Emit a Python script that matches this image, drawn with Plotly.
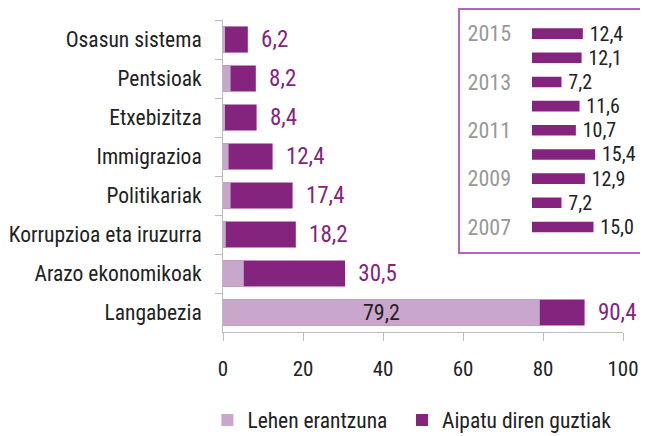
import plotly.graph_objects as go

categories = ["Osasun sistema", "Pentsioak", "Etxebizitza", "Immigrazioa",
              "Politikariak", "Korrupzioa eta iruzurra", "Arazo ekonomikoak", "Langabezia"]
first_answer = [0.3, 1.9, 0.4, 1.4, 1.9, 0.7, 5.2, 79.2]
all_mentions = [6.2, 8.2, 8.4, 12.4, 17.4, 18.2, 30.5, 90.4]
series_names = ["Lehen erantzuna", "Aipatu diren guztiak"]

years = [2015, 2014, 2013, 2012, 2011, 2010, 2009, 2008, 2007]
year_values = [12.4, 12.1, 7.2, 11.6, 10.7, 15.4, 12.9, 7.2, 15.0]
year_ticks = [2007, 2009, 2011, 2013, 2015]

DARK = "#84247f"
LIGHT = "#c9a6cc"
FONT = "Roboto Condensed, Liberation Sans Narrow, DejaVu Sans Condensed, Roboto, sans-serif"

def fmt(v):
    return f"{v:.1f}".replace(".", ",")

fig = go.Figure()

fig.add_trace(go.Bar(
    y=categories, x=all_mentions, orientation="h", name=series_names[1],
    marker=dict(color=DARK, line=dict(width=0)), width=0.67,
    text=["\u2002" + fmt(v) for v in all_mentions], textposition="outside",
    constraintext="none",
    textfont=dict(color=DARK, size=23, family=FONT), cliponaxis=False,
    legendrank=2, hoverinfo="skip",
))
fig.add_trace(go.Bar(
    y=categories, x=first_answer, orientation="h", name=series_names[0] + "\u2002",
    marker=dict(color=LIGHT, line=dict(width=0)), width=0.67,
    text=[fmt(v) if v > 50 else "" for v in first_answer], textposition="inside",
    insidetextanchor="middle", constraintext="none",
    textfont=dict(color="#222222", size=22, family=FONT),
    legendrank=1, hoverinfo="skip",
))

fig.add_trace(go.Bar(
    y=years, x=year_values, orientation="h", xaxis="x2", yaxis="y2",
    marker=dict(color=DARK, line=dict(width=0)), width=0.44,
    text=["\u2009" + fmt(v) for v in year_values], textposition="outside",
    constraintext="none",
    textfont=dict(color="#222222", size=20, family=FONT), cliponaxis=False,
    showlegend=False, hoverinfo="skip",
))

fig.update_layout(
    width=640, height=428,
    margin=dict(l=215, r=25, t=12, b=104, autoexpand=False),
    paper_bgcolor="white", plot_bgcolor="white",
    barmode="overlay",
    font=dict(family=FONT, size=20, color="#222222"),
    xaxis=dict(range=[0, 100], tickvals=[0, 20, 40, 60, 80, 100],
               showgrid=False, zeroline=False, showline=True, linecolor="#bbbbbb",
               ticks="outside", ticklen=8, tickcolor="#bbbbbb", automargin=False,
               tickfont=dict(size=21, color="#222222"), ticklabelstandoff=10),
    yaxis=dict(type="category", autorange="reversed", tickson="boundaries",
               showgrid=False, zeroline=False, showline=True, linecolor="#bbbbbb",
               ticks="outside", ticklen=7, tickcolor="#bbbbbb", automargin=False,
               tickfont=dict(size=21.5, color="#222222"), ticklabelstandoff=16),
    xaxis2=dict(domain=[0.7725, 1.0], range=[0, 22.2], anchor="y2",
                visible=False),
    yaxis2=dict(domain=[0.298, 0.995], range=[2006.5, 2015.5], anchor="x2",
                tickvals=year_ticks, ticktext=[str(y) for y in year_ticks],
                showgrid=False, zeroline=False, showline=False, ticks="",
                automargin=False,
                tickfont=dict(size=22, color="#999999"), ticklabelstandoff=20),
    shapes=[dict(type="rect", xref="paper", yref="paper",
                 x0=0.59, x1=1.0475, y0=0.253, y1=1.035,
                 line=dict(color="#b565c4", width=2), fillcolor="white", layer="below")],
    legend=dict(orientation="h", x=-0.039, xanchor="left", y=-0.282, yanchor="middle",
                font=dict(size=21.5, color="#222222"), itemwidth=30,
                traceorder="normal"),
    bargap=0.33,
)

fig.write_html("out.html")
